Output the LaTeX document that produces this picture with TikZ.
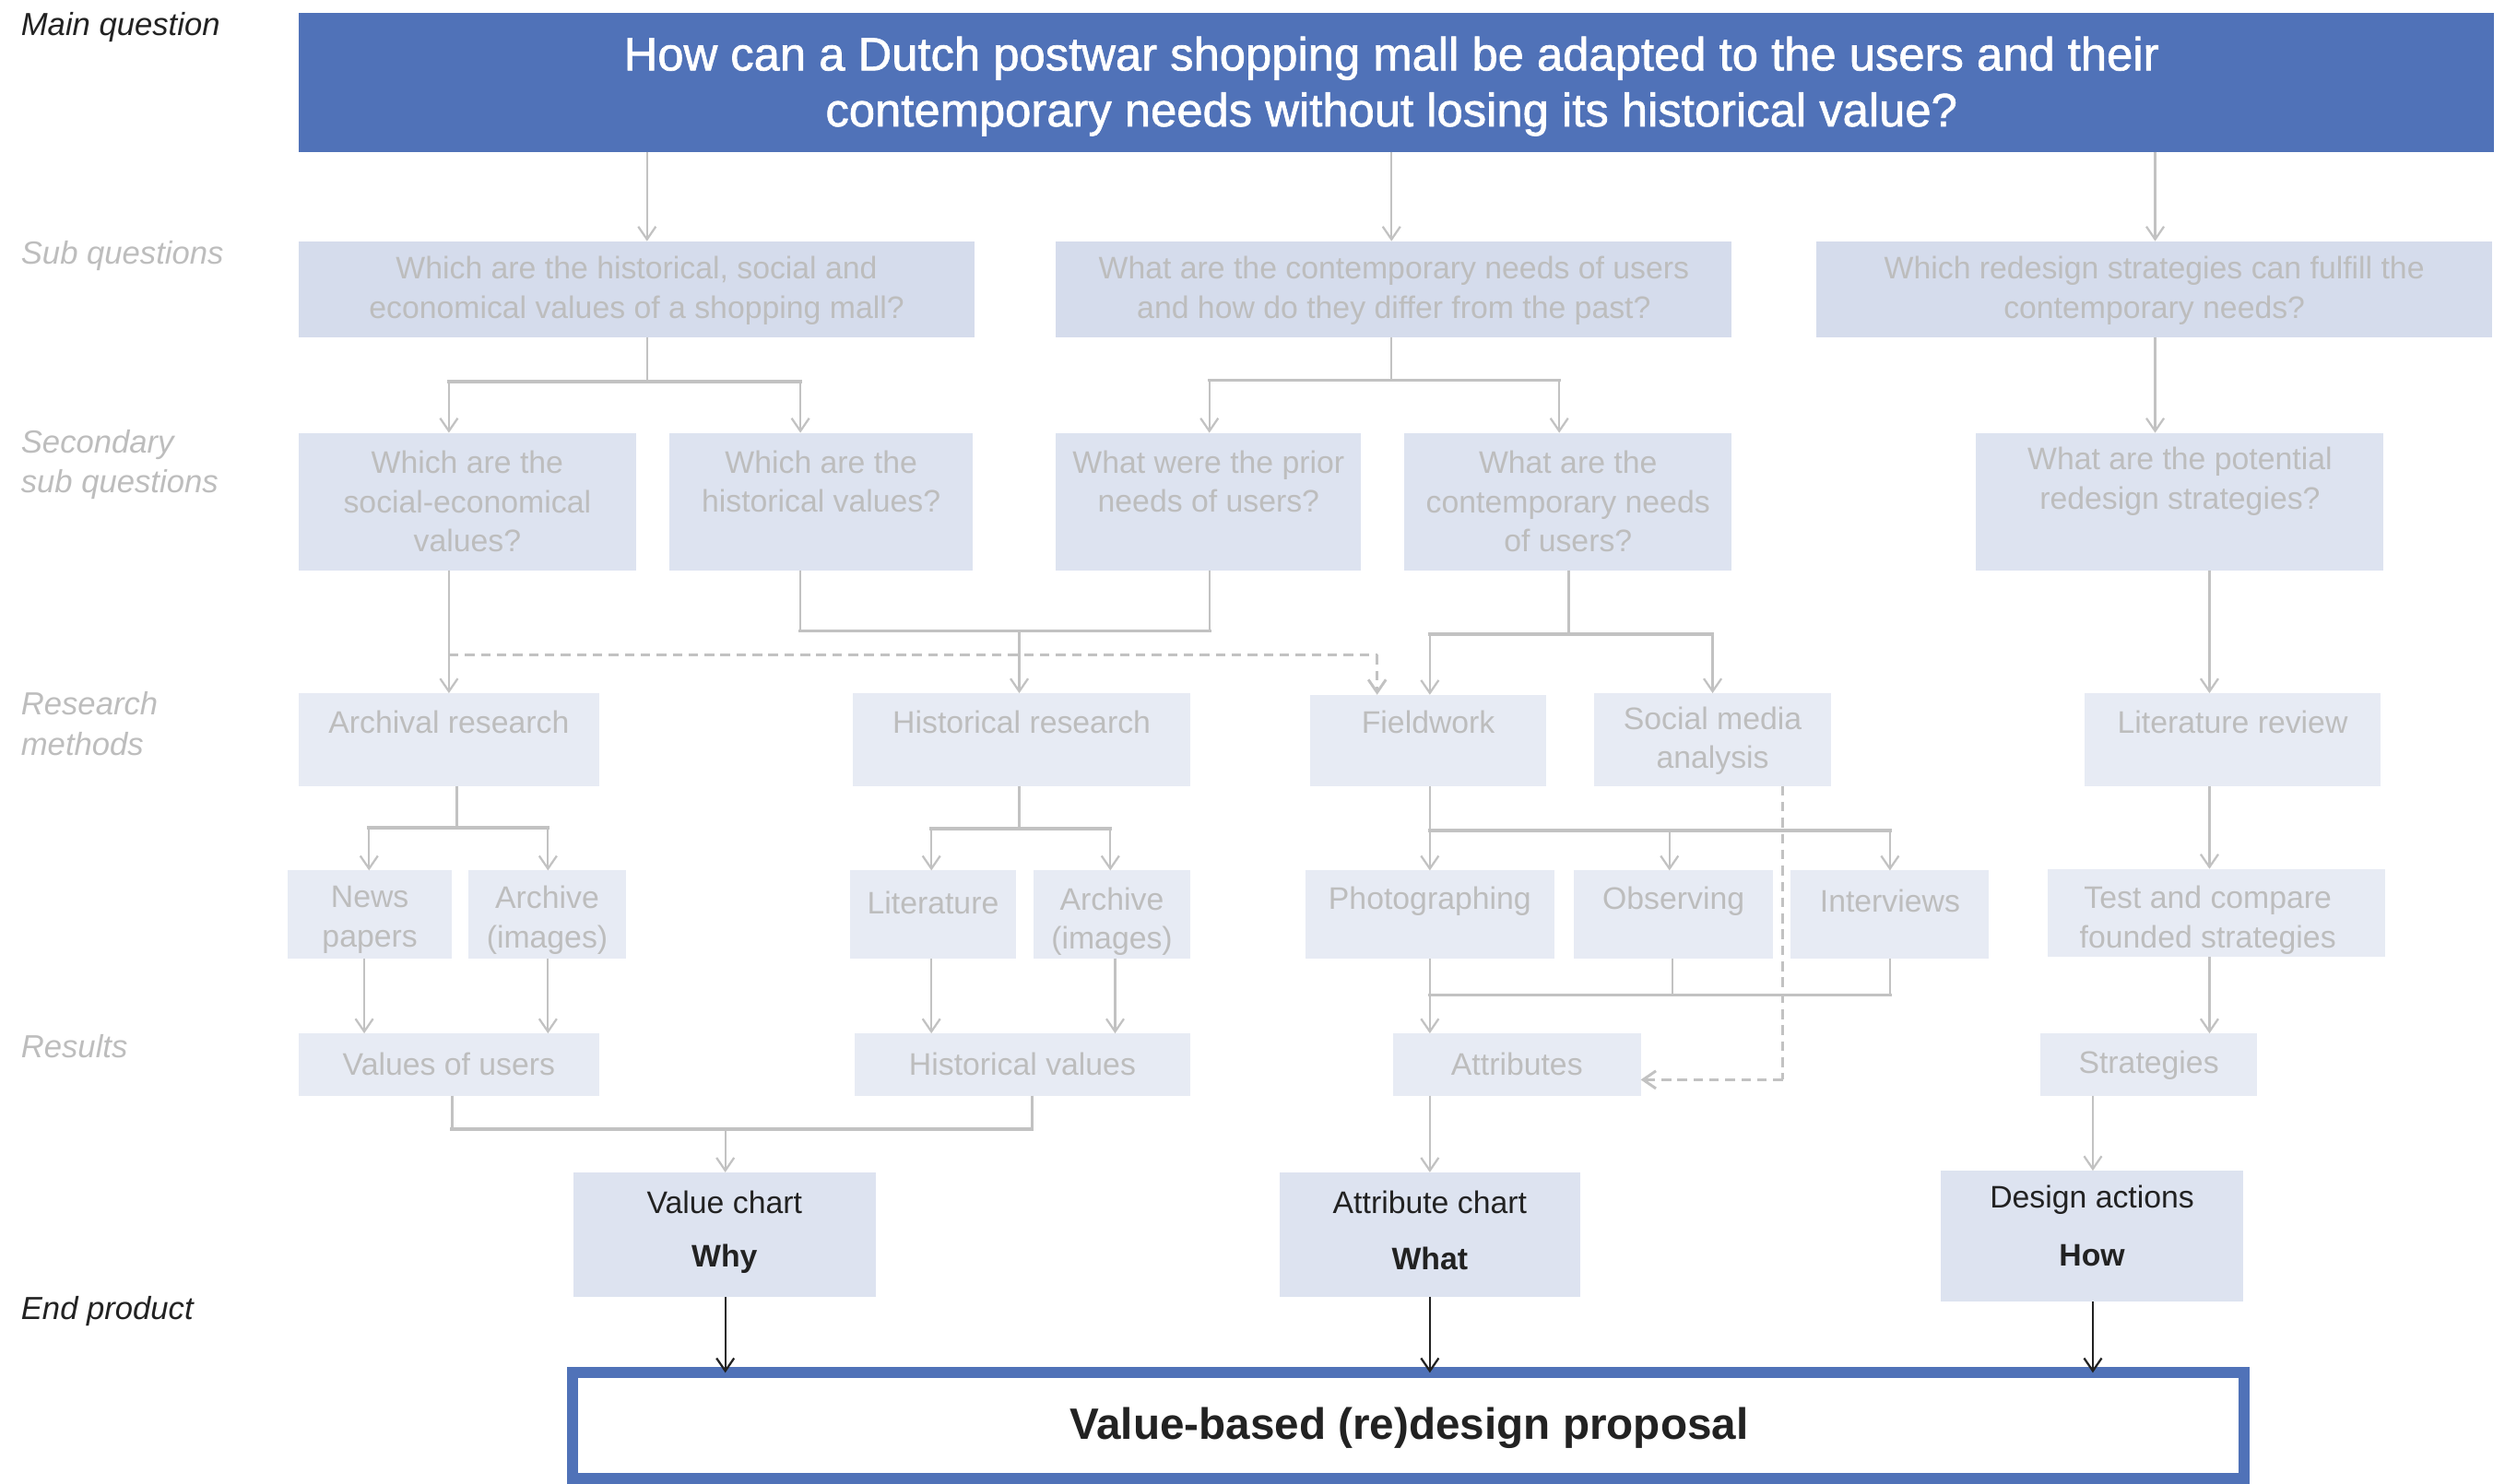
\documentclass[tikz,border=0pt]{standalone}
\usepackage{fontspec}
\setmainfont{Liberation Sans}
\newfontfamily\medfont[FakeBold=1.3]{Liberation Sans}
\usetikzlibrary{arrows.meta,calc}
\definecolor{mblue}{HTML}{5072B8}
\definecolor{fillA}{HTML}{D5DCEC}
\definecolor{fillB}{HTML}{DDE3F0}
\definecolor{fillC}{HTML}{E7EBF4}
\definecolor{lgray}{HTML}{C2C2C2}
\definecolor{tgray}{HTML}{BDBDBD}
\definecolor{dark}{HTML}{222222}
\newcommand\bx[6]{\node[#2,anchor=north west,inner sep=0pt,outer sep=0pt,minimum width={(#5-#3)*1pt},minimum height={(#6-#4)*1pt}] (#1) at (#3,#4) {};}
\begin{document}
\begin{tikzpicture}[x=1pt,y=-1pt,
  ln/.style={draw=lgray,line width=1.3pt},
  arr/.style={ln,-{Straight Barb[length=8pt,width=11pt]}},
  hl/.style={draw=lgray,line width=2.2pt,line cap=rect},
  dsh/.style={draw=lgray,line width=1.7pt,dash pattern=on 6pt off 4pt},
  darr/.style={draw=dark,line width=1.3pt,-{Straight Barb[length=8pt,width=11pt]}},
  tg/.style={text=tgray,font=\fontsize{19.5}{24.5}\selectfont,align=center,inner sep=0pt},
  td/.style={text=dark,font=\fontsize{19.5}{24.5}\selectfont,align=center,inner sep=0pt},
  tdb/.style={text=dark,font=\bfseries\fontsize{19.5}{24.5}\selectfont,align=center,inner sep=0pt},
  lab/.style={font=\itshape\fontsize{20}{25}\selectfont,align=left,anchor=west,inner sep=0pt}]
\useasboundingbox (0,0) rectangle (1568,929);

% row labels
\node[lab,text=dark] (L1) at (13,17) {Main question};
\node[lab,text=tgray] (L2) at (13,160) {Sub questions};
\node[lab,text=tgray] (L3) at (13,291) {Secondary\\sub questions};
\node[lab,text=tgray] (L4) at (13,453) {Research\\methods};
\node[lab,text=tgray] (L5) at (13,655) {Results};
\node[lab,text=dark] (L6) at (13,821) {End product};

% main question
\bx{mq}{fill=mblue}{187}{8}{1561}{95}
\node[text=white,font=\medfont\fontsize{29.3}{35}\selectfont,align=center,inner sep=0pt] (mqt) at (871,54) {How can a Dutch postwar shopping mall be adapted to the users and their\\contemporary needs without losing its historical value?};

% sub questions
\bx{sq1}{fill=fillA}{187}{151}{610}{211}
\bx{sq2}{fill=fillA}{661}{151}{1084}{211}
\bx{sq3}{fill=fillA}{1137}{151}{1560}{211}
\node[tg] (sq1t) at (398.5,182) {Which are the historical, social and\\economical values of a shopping mall?};
\node[tg] (sq2t) at (872.5,182) {What are the contemporary needs of users\\and how do they differ from the past?};
\node[tg] (sq3t) at (1348.5,182) {Which redesign strategies can fulfill the\\contemporary needs?};

% secondary sub questions
\bx{ss1}{fill=fillB}{187}{271}{398}{357}
\bx{ss2}{fill=fillB}{419}{271}{609}{357}
\bx{ss3}{fill=fillB}{661}{271}{852}{357}
\bx{ss4}{fill=fillB}{879}{271}{1084}{357}
\bx{ss5}{fill=fillB}{1237}{271}{1492}{357}
\node[tg] (ss1t) at (292.5,314) {Which are the\\social-economical\\values?};
\node[tg] (ss2t) at (514,301.5) {Which are the\\historical values?};
\node[tg] (ss3t) at (756.5,301.5) {What were the prior\\needs of users?};
\node[tg] (ss4t) at (981.5,314) {What are the\\contemporary needs\\of users?};
\node[tg] (ss5t) at (1364.5,301.5) {What are the potential\\redesign strategies?};

% research methods
\bx{rm1}{fill=fillC}{187}{434}{375}{492}
\bx{rm2}{fill=fillC}{534}{434}{745}{492}
\bx{rm3}{fill=fillC}{820}{435}{968}{492}
\bx{rm4}{fill=fillC}{998}{434}{1146}{492}
\bx{rm5}{fill=fillC}{1305}{434}{1490}{492}
\node[tg] (rm1t) at (281,452) {Archival research};
\node[tg] (rm2t) at (639.5,452) {Historical research};
\node[tg] (rm3t) at (894,452) {Fieldwork};
\node[tg] (rm4t) at (1072,464) {Social media\\analysis};
\node[tg] (rm5t) at (1397.5,452) {Literature review};

% sources
\bx{m1}{fill=fillC}{180}{545}{283}{600}
\bx{m2}{fill=fillC}{293}{545}{392}{600}
\bx{m3}{fill=fillC}{532}{545}{636}{600}
\bx{m4}{fill=fillC}{647}{545}{745}{600}
\bx{m5}{fill=fillC}{817}{545}{973}{600}
\bx{m6}{fill=fillC}{985}{545}{1110}{600}
\bx{m7}{fill=fillC}{1121}{545}{1245}{600}
\bx{m8}{fill=fillC}{1282}{544}{1493}{599}
\node[tg] (m1t) at (231.5,576) {News\\papers};
\node[tg] (m2t) at (342.5,576) {Archive\\(images)};
\node[tg] (m3t) at (584,565) {Literature};
\node[tg] (m4t) at (696,577) {Archive\\(images)};
\node[tg] (m5t) at (895,564) {Photographing};
\node[tg] (m6t) at (1047.5,564) {Observing};
\node[tg] (m7t) at (1183,564) {Interviews};
\node[tg] (m8t) at (1382,576) {Test and compare\\founded strategies};

% results
\bx{r1}{fill=fillC}{187}{647}{375}{686}
\bx{r2}{fill=fillC}{535}{647}{745}{686}
\bx{r3}{fill=fillC}{872}{647}{1027}{686}
\bx{r4}{fill=fillC}{1277}{647}{1413}{686}
\node[tg] (r1t) at (281,666) {Values of users};
\node[tg] (r2t) at (640,666) {Historical values};
\node[tg] (r3t) at (949.5,666) {Attributes};
\node[tg] (r4t) at (1345,667) {Strategies};

% end products
\bx{e1}{fill=fillB}{359}{734}{548}{812}
\bx{e2}{fill=fillB}{801}{734}{989}{812}
\bx{e3}{fill=fillB}{1215}{733}{1404}{815}
\node[td] (e1a) at (453.5,753) {Value chart};
\node[tdb] (e1b) at (453.5,788) {Why};
\node[td] (e2a) at (895,753) {Attribute chart};
\node[tdb] (e2b) at (895,788) {What};
\node[td] (e3a) at (1309.5,751) {Design actions};
\node[tdb] (e3b) at (1309.5,786) {How};

% final proposal
\node[draw=mblue,line width=7pt,fill=white,anchor=north west,inner sep=0pt,outer sep=0pt,minimum width=1046pt,minimum height=66pt] (fin) at (358.5,859.5) {};
\node[text=dark,font=\bfseries\fontsize{27.5}{33}\selectfont,inner sep=0pt] (fint) at (882,894) {Value-based (re)design proposal};

% ---------- connectors ----------
% main -> sub questions
\coordinate (xA) at (405,0);
\coordinate (xB) at (871,0);
\coordinate (xC) at (1349,0);
\draw[arr] (mq.south -| xA) -- (sq1.north -| xA);
\draw[arr] (mq.south -| xB) -- (sq2.north -| xB);
\draw[arr] (mq.south -| xC) -- (sq3.north -| xC);

% sub questions -> secondary
\coordinate (j1) at (405,239);
\coordinate (j1l) at (281,239);
\coordinate (j1r) at (501,239);
\draw[ln] (sq1.south -| j1) -- (j1);
\draw[hl] (j1l) -- (j1r);
\draw[arr] (j1l) -- (ss1.north -| j1l);
\draw[arr] (j1r) -- (ss2.north -| j1r);

\coordinate (j2) at (871,238);
\coordinate (j2l) at (757,238);
\coordinate (j2r) at (976,238);
\draw[ln] (sq2.south -| j2) -- (j2);
\draw[hl] (j2l) -- (j2r);
\draw[arr] (j2l) -- (ss3.north -| j2l);
\draw[arr] (j2r) -- (ss4.north -| j2r);

\draw[arr] (sq3.south -| xC) -- (ss5.north -| xC);

% secondary -> research methods
\draw[arr] (ss1.south -| j1l) -- (rm1.north -| j1l);
\coordinate (d1) at (281,410);
\coordinate (d2) at (862,410);
\draw[dsh] (d1) -- (d2);
\draw[dsh,-{Straight Barb[length=8pt,width=11pt]}] (d2) -- (rm3.north -| d2);

\coordinate (j3l) at (501,395);
\coordinate (j3r) at (757,395);
\coordinate (j3) at (638,395);
\draw[ln] (ss2.south -| j3l) -- (j3l);
\draw[ln] (ss3.south -| j3r) -- (j3r);
\draw[hl] (j3l) -- (j3r);
\draw[arr] (j3) -- (rm2.north -| j3);

\coordinate (j4) at (982,397);
\coordinate (j4l) at (895,397);
\coordinate (j4r) at (1072,397);
\draw[ln] (ss4.south -| j4) -- (j4);
\draw[hl] (j4l) -- (j4r);
\draw[arr] (j4l) -- (rm3.north -| j4l);
\draw[arr] (j4r) -- (rm4.north -| j4r);

\coordinate (xD) at (1383,0);
\draw[arr] (ss5.south -| xD) -- (rm5.north -| xD);

% research methods -> sources
\coordinate (j5) at (286,518);
\coordinate (j5l) at (231,518);
\coordinate (j5r) at (343,518);
\draw[ln] (rm1.south -| j5) -- (j5);
\draw[hl] (j5l) -- (j5r);
\draw[arr] (j5l) -- (m1.north -| j5l);
\draw[arr] (j5r) -- (m2.north -| j5r);

\coordinate (j6) at (638,519);
\coordinate (j6l) at (583,519);
\coordinate (j6r) at (695,519);
\draw[ln] (rm2.south -| j6) -- (j6);
\draw[hl] (j6l) -- (j6r);
\draw[arr] (j6l) -- (m3.north -| j6l);
\draw[arr] (j6r) -- (m4.north -| j6r);

\coordinate (j7l) at (895,520);
\coordinate (j7m) at (1045,520);
\coordinate (j7r) at (1183,520);
\draw[ln] (rm3.south -| j7l) -- (j7l);
\draw[hl] (j7l) -- (j7r);
\draw[arr] (j7l) -- (m5.north -| j7l);
\draw[arr] (j7m) -- (m6.north -| j7m);
\draw[arr] (j7r) -- (m7.north -| j7r);

\coordinate (d3) at (1116,676);
\draw[dsh] (rm4.south -| d3) -- (d3);
\draw[dsh,-{Straight Barb[length=8pt,width=11pt]}] (d3) -- (r3.east |- d3);

\draw[arr] (rm5.south -| xD) -- (m8.north -| xD);

% sources -> results
\coordinate (k1) at (228,0);
\coordinate (k2) at (343,0);
\coordinate (k3) at (583,0);
\coordinate (k4) at (698,0);
\draw[arr] (m1.south -| k1) -- (r1.north -| k1);
\draw[arr] (m2.south -| k2) -- (r1.north -| k2);
\draw[arr] (m3.south -| k3) -- (r2.north -| k3);
\draw[arr] (m4.south -| k4) -- (r2.north -| k4);

\coordinate (j8l) at (895,623);
\coordinate (j8m) at (1047,623);
\coordinate (j8r) at (1183,623);
\draw[ln] (m5.south -| j8l) -- (j8l);
\draw[ln] (m6.south -| j8m) -- (j8m);
\draw[ln] (m7.south -| j8r) -- (j8r);
\draw[hl] (j8l) -- (j8r);
\draw[arr] (j8l) -- (r3.north -| j8l);

\draw[arr] (m8.south -| xD) -- (r4.north -| xD);

% results -> end products
\coordinate (j9l) at (283,707);
\coordinate (j9r) at (646,707);
\coordinate (j9) at (454,707);
\draw[ln] (r1.south -| j9l) -- (j9l);
\draw[ln] (r2.south -| j9r) -- (j9r);
\draw[hl] (j9l) -- (j9r);
\draw[arr] (j9) -- (e1.north -| j9);
\coordinate (xE) at (895,0);
\coordinate (xF) at (1310,0);
\draw[arr] (r3.south -| xE) -- (e2.north -| xE);
\draw[arr] (r4.south -| xF) -- (e3.north -| xF);

% end products -> proposal
\draw[darr] (e1.south -| j9) -- (fin.north -| j9);
\draw[darr] (e2.south -| xE) -- (fin.north -| xE);
\draw[darr] (e3.south -| xF) -- (fin.north -| xF);
\end{tikzpicture}
\end{document}
